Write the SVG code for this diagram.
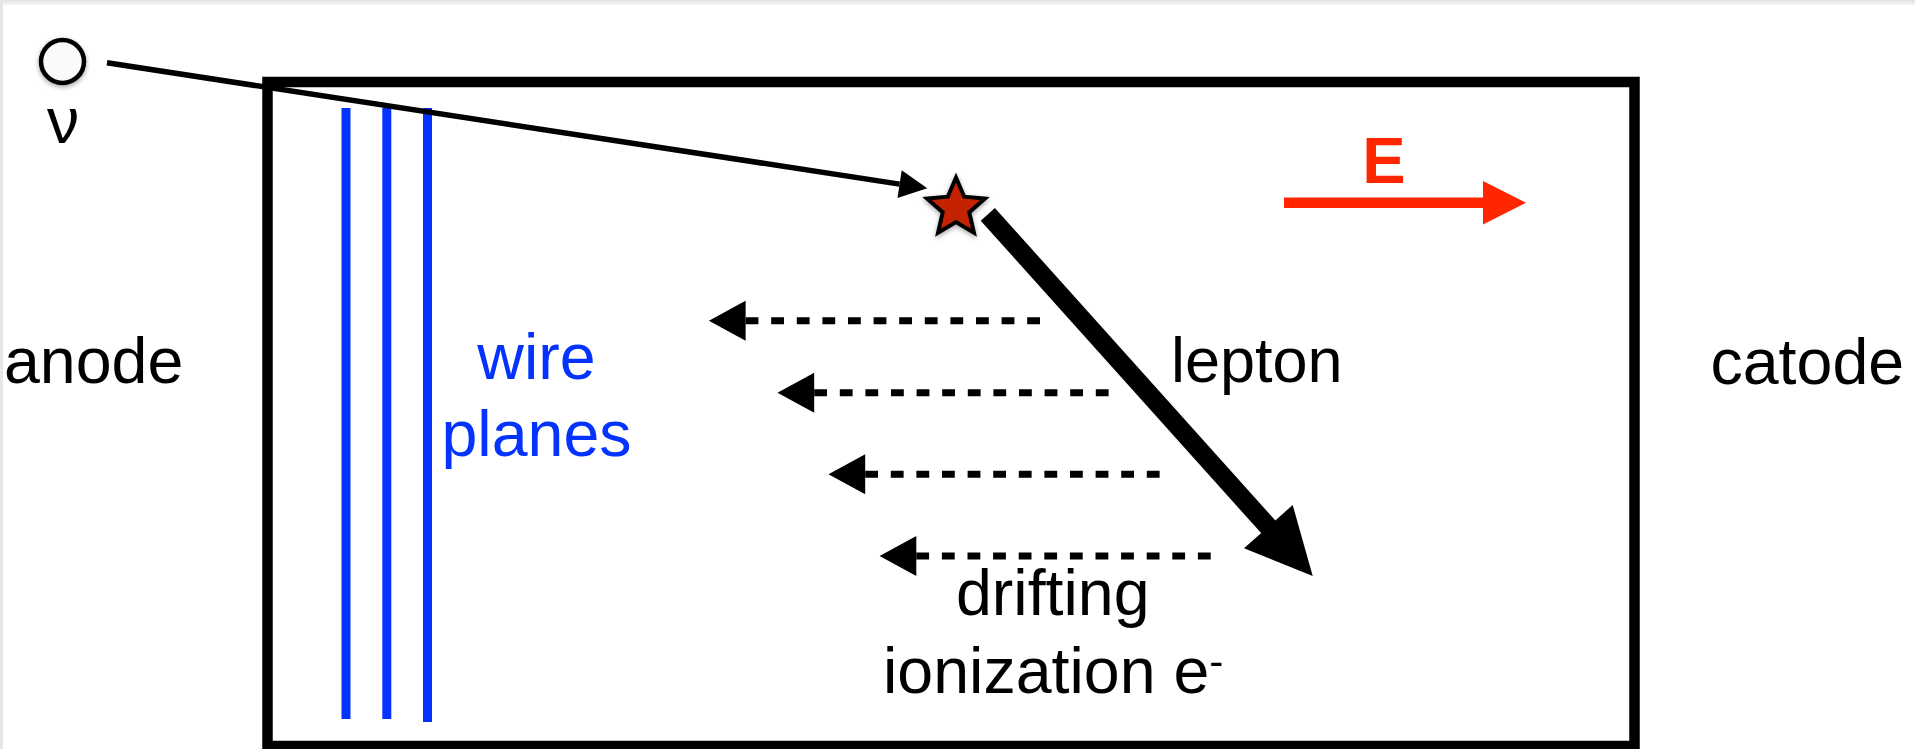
<svg xmlns="http://www.w3.org/2000/svg" width="1915" height="749" viewBox="0 0 1915 749">
  <style>
    .lbl { font-family: "Liberation Sans", Arial, Helvetica, sans-serif; font-size: 64.5px; fill: #000; }
    .blue { fill: #0433ff; }
    .wire { stroke: #0433ff; stroke-width: 9; fill: none; }
    .drift { stroke: #000; stroke-width: 7; stroke-dasharray: 12.8 12.8; fill: none; marker-end: url(#driftHead); }
  </style>
  <defs>
    <linearGradient id="topEdge" x1="0" y1="0" x2="0" y2="1">
      <stop offset="0" stop-color="#e2e2e2"/>
      <stop offset="1" stop-color="#f6f6f6"/>
    </linearGradient>
    <filter id="softShadow" x="-50%" y="-50%" width="200%" height="200%">
      <feDropShadow dx="0" dy="2" stdDeviation="2.5" flood-color="#000" flood-opacity="0.35"/>
    </filter>
    <marker id="driftHead" markerUnits="userSpaceOnUse" markerWidth="40" markerHeight="42" refX="0" refY="21" orient="auto" overflow="visible">
      <path d="M0,1 L36.7,21 L0,41 z" fill="#000"/>
    </marker>
    <marker id="nuHead" markerUnits="userSpaceOnUse" markerWidth="30" markerHeight="30" refX="0" refY="14" orient="auto" overflow="visible">
      <path d="M0,0 L28,14 L0,28 z" fill="#000"/>
    </marker>
  </defs>

  <rect width="1915" height="749" fill="#fff"/>
  <rect x="0" y="0" width="1915" height="5" fill="url(#topEdge)"/>
  <rect x="0" y="0" width="3" height="749" fill="#e6e6e6"/>

  <!-- detector volume -->
  <g id="chamber">
    <rect x="267.5" y="82" width="1367" height="664" fill="none" stroke="#000" stroke-width="10.5"/>
  </g>

  <!-- readout wire planes -->
  <g id="wire-planes">
    <line class="wire" x1="346" y1="108" x2="346" y2="719"/>
    <line class="wire" x1="386.8" y1="108" x2="386.8" y2="719"/>
    <line class="wire" x1="427.5" y1="108" x2="427.5" y2="722"/>
    <text class="lbl blue" x="536.5" y="378.6" text-anchor="middle">wire</text>
    <text class="lbl blue" x="536.5" y="455.5" text-anchor="middle">planes</text>
  </g>

  <!-- incoming neutrino -->
  <g id="neutrino">
    <circle cx="62.5" cy="61.5" r="21.5" fill="#fafafa" stroke="#000" stroke-width="4.5" filter="url(#softShadow)"/>
    <text class="lbl" x="63" y="143" text-anchor="middle" font-size="63">ν</text>
  </g>

  <!-- interaction vertex -->
  <g id="vertex">
    <polygon points="956,177.5 964.23,196.67 985.01,198.58 969.32,212.33 973.93,232.67 956,222 938.07,232.67 942.68,212.33 926.99,198.58 947.77,196.67"
             fill="#c42400" stroke="#000" stroke-width="4" stroke-linejoin="miter" filter="url(#softShadow)"/>
  </g>

  <!-- electric field -->
  <g id="field">
    <text x="1384" y="183" text-anchor="middle" font-family="'Liberation Sans', Arial, sans-serif" font-weight="bold" font-size="65" fill="#ff2600">E</text>
  </g>

  <g id="labels">
    <text id="anode" class="lbl" x="4" y="383">anode</text>
    <text id="catode" class="lbl" x="1710.5" y="384">catode</text>
    <text id="lepton" class="lbl" x="1171" y="381.7" style="font-size:63px">lepton</text>
    <text id="drifting" class="lbl" x="956" y="615">drifting</text>
    <text id="ionization" class="lbl" x="883" y="693">ionization e<tspan font-size="42" dy="-17">-</tspan></text>
  </g>

  <!-- tracks and drift arrows -->
  <g id="connectors">
    <line x1="107" y1="62.8" x2="899.6" y2="184.1" stroke="#000" stroke-width="5.5" marker-end="url(#nuHead)"/>
    <line x1="987.8" y1="214.3" x2="1272" y2="531" stroke="#000" stroke-width="19"/>
    <polygon points="1312.7,576 1292.7,505 1244,548.3" fill="#000"/>
    <line x1="1284" y1="202.8" x2="1486" y2="202.8" stroke="#ff2600" stroke-width="10.5"/>
    <polygon points="1483,181 1526,202.8 1483,224.5" fill="#ff2600"/>
    <path class="drift" d="M1040,320.7 H745.6"/>
    <path class="drift" d="M1108.6,392.7 H814.2"/>
    <path class="drift" d="M1159.6,474.3 H865.2"/>
    <path class="drift" d="M1210.7,556 H916.3"/>
  </g>
</svg>
